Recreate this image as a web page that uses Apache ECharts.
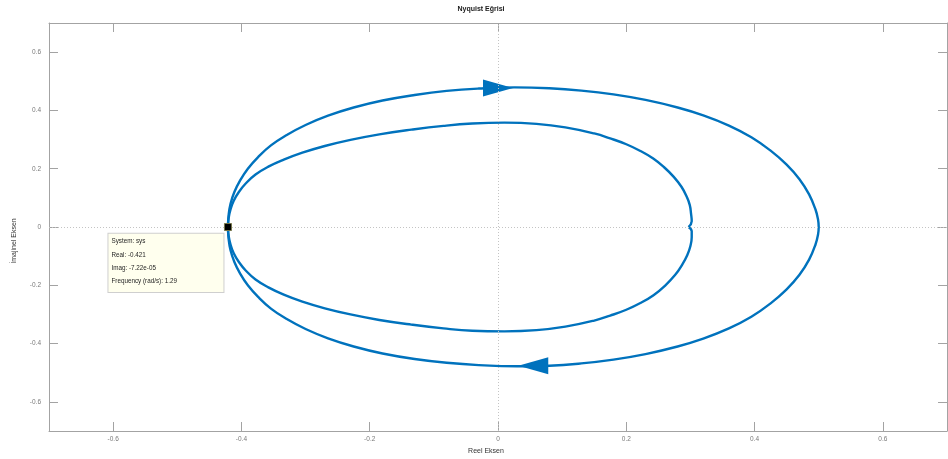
<!DOCTYPE html>
<html>
<head>
<meta charset="utf-8">
<script src="https://cdn.jsdelivr.net/npm/echarts@6/dist/echarts.min.js"></script>
<style>
  html, body { margin: 0; padding: 0; background: #ffffff; }
  #chart { width: 948px; height: 459px; }
</style>
</head>
<body>
<div id="chart"></div>
<script>
// Nyquist curve of sys, as [real, imag] points.
// Outer loop: upper half and lower half, each from the -0.421 crossing to the +0.5 crossing.
const outerUpper = [
  [-0.421, 0], [-0.420, 0.04], [-0.417, 0.08], [-0.411, 0.12], [-0.402, 0.16], [-0.390, 0.20],
  [-0.374, 0.24], [-0.354, 0.28], [-0.330, 0.315], [-0.300, 0.35], [-0.265, 0.382], [-0.225, 0.41],
  [-0.18, 0.434], [-0.13, 0.453], [-0.08, 0.467], [-0.03, 0.475], [0.026, 0.479], [0.08, 0.476],
  [0.13, 0.468], [0.18, 0.455], [0.23, 0.436], [0.28, 0.41], [0.32, 0.383], [0.36, 0.348],
  [0.395, 0.308], [0.425, 0.262], [0.45, 0.214], [0.47, 0.164], [0.485, 0.112], [0.495, 0.06],
  [0.499, 0.025], [0.5, 0]
];
const outerLower = [
  [-0.421, 0], [-0.420, -0.04], [-0.417, -0.08], [-0.411, -0.12], [-0.402, -0.16], [-0.390, -0.20],
  [-0.374, -0.24], [-0.354, -0.28], [-0.330, -0.315], [-0.300, -0.35], [-0.265, -0.382], [-0.225, -0.41],
  [-0.18, -0.434], [-0.13, -0.453], [-0.08, -0.466], [-0.03, -0.474], [0.03, -0.478], [0.08, -0.476],
  [0.13, -0.468], [0.18, -0.455], [0.23, -0.436], [0.28, -0.41], [0.32, -0.383], [0.36, -0.348],
  [0.395, -0.308], [0.425, -0.262], [0.45, -0.214], [0.47, -0.164], [0.485, -0.112], [0.495, -0.06],
  [0.499, -0.025], [0.5, 0]
];
// Inner loop: upper half and lower half, each from the -0.421 crossing to the ~0.3 crossing.
const innerUpper = [
  [-0.421, 0], [-0.420, 0.03], [-0.417, 0.06], [-0.412, 0.09], [-0.404, 0.12], [-0.393, 0.15],
  [-0.378, 0.18], [-0.358, 0.207], [-0.334, 0.231], [-0.305, 0.255], [-0.27, 0.278], [-0.23, 0.299],
  [-0.185, 0.318], [-0.135, 0.334], [-0.085, 0.347], [-0.04, 0.355], [0.01, 0.358], [0.06, 0.354],
  [0.105, 0.342], [0.15, 0.321], [0.175, 0.304], [0.2, 0.284], [0.222, 0.261], [0.242, 0.235],
  [0.259, 0.205], [0.274, 0.172], [0.286, 0.138], [0.294, 0.105], [0.299, 0.075], [0.301, 0.045],
  [0.302, 0.02], [0.297, 0]
];
const innerLower = [
  [-0.421, 0], [-0.420, -0.03], [-0.417, -0.06], [-0.412, -0.09], [-0.404, -0.12], [-0.393, -0.15],
  [-0.378, -0.18], [-0.358, -0.207], [-0.334, -0.232], [-0.305, -0.256], [-0.27, -0.279], [-0.23, -0.3],
  [-0.185, -0.319], [-0.135, -0.335], [-0.085, -0.348], [-0.04, -0.356], [0.01, -0.358], [0.06, -0.354],
  [0.105, -0.342], [0.15, -0.321], [0.175, -0.304], [0.2, -0.284], [0.222, -0.261], [0.243, -0.233],
  [0.261, -0.2], [0.276, -0.165], [0.287, -0.13], [0.295, -0.097], [0.3, -0.065], [0.302, -0.035],
  [0.302, -0.015], [0.297, 0]
];

// Direction arrows on the outer loop
const arrowPoints = [[0.0, 0.477], [0.055, -0.476]];
const arrowDirs = ['right', 'left'];

// Data tip
const tipSystem = 'sys';
const tipReal = -0.421;
const tipImag = -7.22e-05;
const tipFreq = 1.29;

// Axes
const axisMin = -0.7;
const axisMax = 0.7;
const xTicks = [-0.6, -0.4, -0.2, 0, 0.2, 0.4, 0.6];
const yTicks = [-0.6, -0.4, -0.2, 0, 0.2, 0.4, 0.6];

const titleText = 'Nyquist Eğrisi';
const xName = 'Reel Eksen';
const yName = 'İmajinel Eksen';

const FONT = '"Liberation Sans", Arial, Helvetica, sans-serif';
const LINE = '#0072BD';
const AXIS = '#a3a3a3';
const TXT = '#7a7a7a';

function expFmt(v) {
  // two-digit exponent, e.g. -7.22e-05
  const s = v.toExponential(2);
  return s.replace(/e([+-])(\d)$/, 'e$10$2');
}

const arrowPath = {
  right: 'path://M0,0 L30,8.5 L0,17 Z',
  left: 'path://M30,0 L0,8.5 L30,17 Z'
};

function makeAxis(kind, pos, ticks, showLabels) {
  return {
    type: 'value',
    position: pos,
    min: axisMin,
    max: axisMax,
    splitLine: { show: false },
    axisLine: { show: true, onZero: false, lineStyle: { color: AXIS, width: 1 } },
    axisTick: {
      show: true, inside: true, length: 9,
      customValues: ticks,
      lineStyle: { color: AXIS, width: 1 }
    },
    axisLabel: {
      show: showLabels,
      customValues: ticks,
      color: TXT,
      fontSize: 6.5,
      fontFamily: FONT,
      margin: kind === 'x' ? 5 : 8,
      formatter: v => String(v)
    }
  };
}

function curveSeries(name, data) {
  return {
    name: name,
    type: 'line',
    data: data,
    smooth: 0.45,
    showSymbol: false,
    symbol: 'none',
    lineStyle: { color: LINE, width: 2.4 },
    z: 3,
    silent: true
  };
}

const chart = echarts.init(document.getElementById('chart'), null, { renderer: 'canvas' });

chart.setOption({
  animation: false,
  backgroundColor: '#ffffff',
  grid: { left: 49, right: 1, top: 23, bottom: 28, containLabel: false },
  xAxis: [
    makeAxis('x', 'bottom', xTicks, true),
    makeAxis('x', 'top', xTicks, false)
  ],
  yAxis: [
    makeAxis('y', 'left', yTicks, true),
    makeAxis('y', 'right', yTicks, false)
  ],
  graphic: [
    {
      type: 'text', x: 481, y: 9, z: 10,
      style: { text: titleText, font: 'bold 7px ' + FONT, fill: '#1a1a1a', align: 'center', verticalAlign: 'middle' }
    },
    {
      type: 'text', x: 486, y: 451, z: 10,
      style: { text: xName, font: '7px ' + FONT, fill: '#333333', align: 'center', verticalAlign: 'middle' }
    },
    {
      type: 'text', x: 14, y: 241, rotation: Math.PI / 2, z: 10,
      style: { text: yName, font: '7px ' + FONT, fill: '#333333', align: 'center', verticalAlign: 'middle' }
    }
  ],
  series: [
    {
      // zero reference lines
      type: 'line',
      data: [],
      z: 1,
      silent: true,
      markLine: {
        silent: true,
        symbol: 'none',
        animation: false,
        label: { show: false },
        lineStyle: { color: '#c4c4c4', width: 1, type: [1, 2] },
        data: [{ xAxis: 0 }, { yAxis: 0 }]
      }
    },
    curveSeries('outerUpper', outerUpper),
    curveSeries('outerLower', outerLower),
    curveSeries('innerUpper', innerUpper),
    curveSeries('innerLower', innerLower),
    {
      type: 'scatter',
      silent: true,
      z: 4,
      data: arrowPoints.map((p, i) => ({
        value: p,
        symbol: arrowPath[arrowDirs[i]],
        symbolSize: [30, 17],
        itemStyle: { color: LINE, opacity: 1 }
      }))
    },
    {
      type: 'scatter',
      silent: true,
      z: 6,
      data: [{
        value: [tipReal, tipImag],
        symbol: 'rect',
        symbolSize: 7,
        itemStyle: { color: '#000000', borderColor: '#77774a', borderWidth: 1, opacity: 1 },
        label: {
          show: true,
          position: [-115.5, 10.8],
          align: 'left',
          verticalAlign: 'top',
          formatter: 'System: ' + tipSystem +
            '\nReal: ' + tipReal +
            '\nImag: ' + expFmt(tipImag) +
            '\nFrequency (rad/s): ' + tipFreq,
          fontFamily: FONT,
          fontSize: 6.3,
          lineHeight: 13.3,
          color: '#262626',
          backgroundColor: '#ffffee',
          borderColor: '#cfcfcf',
          borderWidth: 1,
          width: 109,
          padding: [1, 3, 4, 3]
        }
      }]
    }
  ]
});
</script>
</body>
</html>
